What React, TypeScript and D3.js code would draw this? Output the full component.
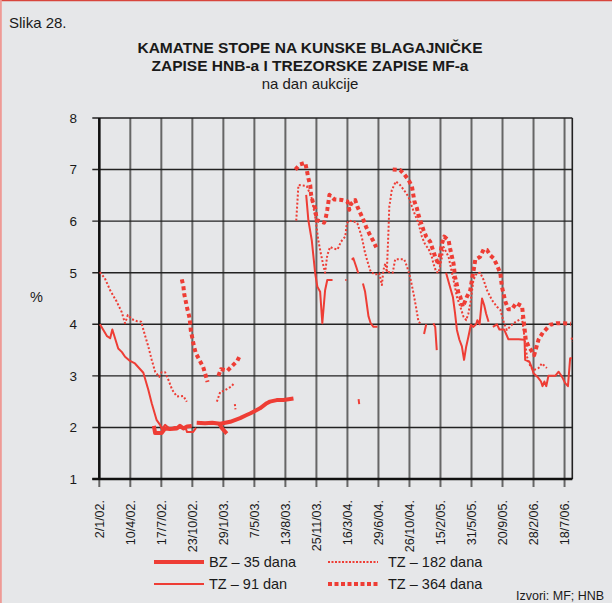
import * as d3 from "d3";
import React from "react";

// auction dates shown on the axis (one label per step)
const tickLabels = [
  "2/1/02.", "10/4/02.", "17/7/02.", "23/10/02.", "29/1/03.", "7/5/03.",
  "13/8/03.", "25/11/03.", "16/3/04.", "29/6/04.", "26/10/04.", "15/2/05.",
  "31/5/05.", "20/9/05.", "28/2/06.", "18/7/06.",
];
const yTicks = [1, 2, 3, 4, 5, 6, 7, 8];

type Pt = [number, number]; // [position on auction axis, rate %]

// BZ – 35 dana
const bz35: Pt[][] = [
  [[1.76, 2.03], [1.8, 1.89], [2.01, 1.89], [2.12, 1.98], [2.28, 1.97], [2.5, 1.98],
   [2.6, 2.03], [2.71, 1.98], [2.83, 2.02], [2.98, 2.03]],
  [[3.14, 2.09], [3.41, 2.08], [3.64, 2.09], [3.9, 2.07], [4.22, 2.11], [4.54, 2.18],
   [4.75, 2.24], [4.86, 2.27], [5.18, 2.37], [5.4, 2.47], [5.5, 2.5], [5.72, 2.53],
   [5.94, 2.53], [6.26, 2.56]],
  [[3.86, 2.08], [3.96, 1.98], [4.11, 1.88]],
];

// TZ – 91 dan
const tz91: Pt[][] = [
  [[0.02, 4.0], [0.15, 3.87], [0.25, 3.77], [0.35, 3.73], [0.42, 3.9], [0.61, 3.53],
   [0.73, 3.46], [0.83, 3.37], [0.99, 3.29], [1.15, 3.24], [1.42, 3.06], [1.58, 2.73],
   [1.69, 2.47], [1.85, 2.14], [1.96, 2.05], [2.02, 1.97], [2.12, 2.05], [2.28, 1.97],
   [2.44, 2.01], [2.6, 1.99], [2.77, 2.01], [2.83, 1.91], [3.02, 1.91], [3.12, 1.99]],
  [[6.67, 6.51], [6.74, 6.02], [6.85, 5.63], [6.96, 4.99], [7.03, 4.73], [7.12, 4.63],
   [7.19, 4.02], [7.28, 4.66], [7.35, 4.86], [7.52, 4.86]],
  [[7.93, 4.86], [7.97, 4.86]],
  [[8.14, 5.25], [8.19, 5.28], [8.28, 5.12], [8.35, 4.99]],
  [[8.36, 2.55], [8.38, 2.45]],
  [[8.5, 4.79], [8.57, 4.63], [8.68, 4.15], [8.75, 4.02], [8.84, 3.95], [8.97, 3.95]],
  [[10.47, 3.81], [10.54, 4.0]],
  [[10.77, 4.02], [10.83, 3.95], [10.88, 3.5]],
  [[11.18, 5.0], [11.29, 4.76], [11.4, 4.53], [11.47, 4.21], [11.53, 3.89], [11.61, 3.7],
   [11.69, 3.57], [11.76, 3.31], [11.83, 3.57], [11.9, 3.76], [11.98, 3.99], [12.06, 3.95],
   [12.15, 4.0], [12.19, 4.08], [12.26, 4.0], [12.34, 4.5], [12.41, 4.37], [12.47, 4.21],
   [12.55, 4.05]],
  [[12.69, 3.95], [12.82, 4.0], [12.9, 3.9], [13.05, 3.9], [13.19, 3.71], [13.52, 3.71],
   [13.71, 3.7], [13.73, 3.31], [13.87, 3.27], [13.95, 3.15], [14.0, 3.05], [14.13, 2.98],
   [14.24, 2.89], [14.29, 2.8], [14.35, 2.89], [14.41, 2.8], [14.48, 3.0], [14.7, 3.0],
   [14.81, 3.08], [14.92, 2.98], [15.02, 2.86], [15.11, 2.8], [15.18, 3.34], [15.24, 3.34]],
];

// TZ – 182 dana
const tz182: Pt[][] = [
  [[0.02, 5.01], [0.18, 4.89], [0.35, 4.66], [0.56, 4.44], [0.72, 4.24], [0.83, 4.02],
   [0.92, 4.18], [1.05, 4.1], [1.21, 4.06], [1.35, 4.05], [1.47, 3.79], [1.58, 3.57],
   [1.69, 3.31], [1.8, 3.08], [1.93, 2.98], [2.01, 3.07], [2.12, 3.07], [2.23, 2.92],
   [2.35, 2.73], [2.5, 2.6], [2.71, 2.61], [2.82, 2.5]],
  [[3.79, 2.5], [3.9, 2.69], [4.02, 2.71], [4.25, 2.79], [4.35, 2.86]],
  [[4.37, 2.45], [4.39, 2.35]],
  [[6.35, 6.01], [6.42, 6.7], [6.69, 6.68], [6.85, 6.44], [6.96, 6.09], [7.06, 5.63],
   [7.14, 5.38], [7.23, 5.12], [7.28, 5.0], [7.35, 5.34], [7.44, 5.5], [7.55, 5.47],
   [7.68, 5.45], [7.79, 5.6], [7.93, 5.7], [7.98, 5.96], [8.06, 6.01], [8.22, 5.99],
   [8.32, 5.96], [8.46, 5.7], [8.57, 5.38], [8.68, 5.15], [8.75, 5.02], [8.89, 4.96],
   [9.03, 4.99], [9.11, 4.76], [9.16, 5.05], [9.22, 5.18], [9.27, 5.02], [9.46, 5.0],
   [9.54, 5.26], [9.7, 5.26], [9.83, 5.26], [9.92, 5.12], [10.02, 4.92], [10.13, 4.6],
   [10.21, 4.34], [10.29, 4.05], [10.35, 4.02]],
  [[9.27, 5.02], [9.32, 5.76], [9.35, 6.28], [9.43, 6.6], [9.56, 6.77], [9.7, 6.7],
   [9.86, 6.57], [9.97, 6.47], [10.08, 6.28], [10.18, 6.12], [10.29, 5.96], [10.4, 5.7],
   [10.51, 5.54], [10.61, 5.47], [10.72, 5.31], [10.77, 5.18], [10.86, 5.02], [10.94, 5.0],
   [11.05, 5.31], [11.1, 5.5], [11.26, 5.31], [11.42, 4.86], [11.53, 4.53], [11.64, 4.34],
   [11.74, 4.15], [11.83, 4.08], [11.9, 4.21], [11.98, 4.47], [12.06, 4.86], [12.17, 4.99],
   [12.28, 5.0], [12.39, 4.86], [12.5, 4.66], [12.66, 4.47], [12.82, 4.34], [12.93, 4.28],
   [13.05, 4.02], [13.14, 3.89], [13.19, 3.92], [13.35, 4.02], [13.52, 4.08], [13.63, 4.12],
   [13.68, 3.89], [13.73, 3.63], [13.79, 3.37], [13.9, 3.18], [14.0, 3.11], [14.16, 3.15],
   [14.27, 3.24], [14.43, 3.15]],
  [[15.23, 3.74], [15.25, 3.66]],
];

// TZ – 364 dana
const tz364: Pt[][] = [
  [[2.66, 4.87], [2.71, 4.74], [2.74, 4.58], [2.79, 4.44], [2.84, 4.29], [2.9, 4.15],
   [2.93, 4.02], [2.95, 3.88], [3.0, 3.73], [3.05, 3.58], [3.11, 3.44], [3.35, 3.17],
   [3.42, 3.03], [3.49, 2.88]],
  [[3.84, 3.0], [3.92, 3.13], [4.13, 3.1], [4.28, 3.19], [4.45, 3.29], [4.54, 3.4]],
  [[6.32, 7.0], [6.47, 7.1], [6.64, 7.13], [6.69, 6.99], [6.74, 6.83], [6.8, 6.7],
   [6.83, 6.51], [6.88, 6.38], [6.96, 6.25], [7.01, 6.02], [7.06, 6.01], [7.25, 5.97],
   [7.31, 6.09], [7.35, 6.22], [7.39, 6.38], [7.42, 6.51], [7.58, 6.42], [7.82, 6.41],
   [8.0, 6.38], [8.06, 6.22], [8.11, 6.33], [8.25, 6.41], [8.32, 6.28], [8.52, 6.02],
   [8.6, 5.89], [8.71, 5.75], [8.82, 5.63], [8.93, 5.49]],
  [[9.46, 7.0], [9.7, 6.99], [9.83, 6.91], [9.97, 6.8], [10.08, 6.67], [10.16, 6.38],
   [10.24, 6.25], [10.29, 6.12], [10.45, 5.83], [10.54, 5.7], [10.67, 5.6], [10.74, 5.47],
   [10.83, 5.31], [10.94, 5.15], [11.05, 5.57], [11.12, 5.7], [11.26, 5.63], [11.31, 5.47],
   [11.37, 5.31], [11.42, 5.18], [11.47, 4.92], [11.53, 4.76], [11.58, 4.6], [11.64, 4.53],
   [11.72, 4.34], [11.85, 4.53], [11.96, 4.66], [12.03, 4.92], [12.09, 5.12], [12.12, 5.25],
   [12.28, 5.31], [12.39, 5.45], [12.5, 5.44], [12.6, 5.34], [12.71, 5.28], [12.82, 5.15],
   [12.93, 4.99], [12.98, 4.73], [13.03, 4.6], [13.09, 4.44], [13.19, 4.29], [13.3, 4.29],
   [13.44, 4.41], [13.63, 4.35], [13.65, 4.24], [13.68, 4.08], [13.71, 3.92], [13.75, 3.7],
   [13.84, 3.57], [13.92, 3.5], [14.02, 3.4], [14.16, 3.7], [14.3, 3.84], [14.43, 3.92],
   [14.54, 3.99], [14.75, 4.02], [14.97, 4.02], [15.21, 4.01]],
];

const RED = "#ee3d35";
const FONT = "'Liberation Sans', Arial, Helvetica, sans-serif";

const series = [
  { name: "bz35", data: bz35, width: 4, dash: undefined as string | undefined },
  { name: "tz91", data: tz91, width: 2, dash: undefined as string | undefined },
  { name: "tz182", data: tz182, width: 2, dash: "2 2" },
  { name: "tz364", data: tz364, width: 4, dash: "4 3" },
];

const legendItems = [
  { label: "BZ – 35 dana", width: 4, dash: undefined as string | undefined, col: 0, row: 0 },
  { label: "TZ – 182 dana", width: 2, dash: "2 1.5", col: 1, row: 0 },
  { label: "TZ – 91 dan", width: 2, dash: undefined as string | undefined, col: 0, row: 1 },
  { label: "TZ – 364 dana", width: 4, dash: "4 2.5", col: 1, row: 1 },
];

export default function App() {
  const W = 612;
  const H = 603;
  const x = d3.scaleLinear().domain([0, 15.25]).range([99.3, 572.3]);
  const y = d3.scaleLinear().domain([1, 8]).range([479, 118]);
  const line = d3
    .line<Pt>()
    .x((d) => x(d[0]))
    .y((d) => y(d[1]));

  return (
    <svg
      width={W}
      height={H}
      style={{ position: "absolute", left: 0, top: 0, fontFamily: FONT }}
    >
      <rect x={0} y={0} width={W} height={H} fill="#e6e7e9" />
      <line x1={0} y1={0.5} x2={W} y2={0.5} stroke="#d8453c" strokeWidth={1.5} />
      <line x1={0.8} y1={0} x2={0.8} y2={H} stroke="#ef9a95" strokeWidth={2} />

      <text x={9} y={28} fontSize={15} fill="#1a1a1a">Slika 28.</text>
      <g textAnchor="middle" fill="#1a1a1a">
        <text x={310} y={53} fontSize={15.5} fontWeight="bold">
          KAMATNE STOPE NA KUNSKE BLAGAJNIČKE
        </text>
        <text x={310} y={71} fontSize={15.5} fontWeight="bold">
          ZAPISE HNB-a I TREZORSKE ZAPISE MF-a
        </text>
        <text x={310} y={89} fontSize={15}>na dan aukcije</text>
      </g>

      {/* vertical grid + ticks */}
      {tickLabels.map((_, i) => (
        <line
          key={"v" + i}
          x1={x(i)}
          x2={x(i)}
          y1={y(8)}
          y2={y(1) + 8}
          stroke="#666"
          strokeWidth={2}
        />
      ))}
      {/* horizontal grid + ticks */}
      {yTicks.map((v) => (
        <line
          key={"h" + v}
          x1={x(0) - 7}
          x2={x(15.25)}
          y1={y(v)}
          y2={y(v)}
          stroke="#222"
          strokeWidth={1.4}
        />
      ))}
      <line x1={x(15.25)} x2={x(15.25)} y1={y(8)} y2={y(1)} stroke="#222" strokeWidth={1.6} />
      <line x1={x(0)} x2={x(0)} y1={y(8)} y2={y(1)} stroke="#111" strokeWidth={2.5} />
      <line x1={x(0) - 7} x2={x(15.25)} y1={y(1)} y2={y(1)} stroke="#111" strokeWidth={2.5} />

      {yTicks.map((v) => (
        <text
          key={"yl" + v}
          x={77}
          y={y(v)}
          dy="0.36em"
          textAnchor="end"
          fontSize={13.5}
          fill="#1a1a1a"
        >
          {v}
        </text>
      ))}
      <text x={30} y={302} fontSize={14.5} fill="#1a1a1a">%</text>

      {tickLabels.map((t, i) => (
        <text
          key={"xl" + i}
          transform={`translate(${x(i)},500) rotate(-90)`}
          dy="0.35em"
          textAnchor="end"
          fontSize={12.5}
          fill="#1a1a1a"
        >
          {t}
        </text>
      ))}

      {/* series */}
      {series.map((s) =>
        s.data.map((seg, j) => (
          <path
            key={s.name + j}
            d={line(seg) ?? ""}
            fill="none"
            stroke={RED}
            strokeWidth={s.width}
            strokeDasharray={s.dash}
            strokeLinejoin="round"
          />
        )),
      )}

      {/* legend */}
      {legendItems.map((it) => {
        const lx = it.col === 0 ? 154 : 328;
        const ly = it.row === 0 ? 562 : 584;
        return (
          <g key={it.label}>
            <line
              x1={lx}
              x2={lx + 50}
              y1={ly}
              y2={ly}
              stroke={RED}
              strokeWidth={it.width}
              strokeDasharray={it.dash}
            />
            <text x={lx + 55 + (it.col === 1 ? 5 : 0)} y={ly} dy="0.36em" fontSize={14.5} fill="#1a1a1a">
              {it.label}
            </text>
          </g>
        );
      })}
      <text x={516} y={600} fontSize={12.5} fill="#1a1a1a">Izvori: MF; HNB</text>
    </svg>
  );
}
